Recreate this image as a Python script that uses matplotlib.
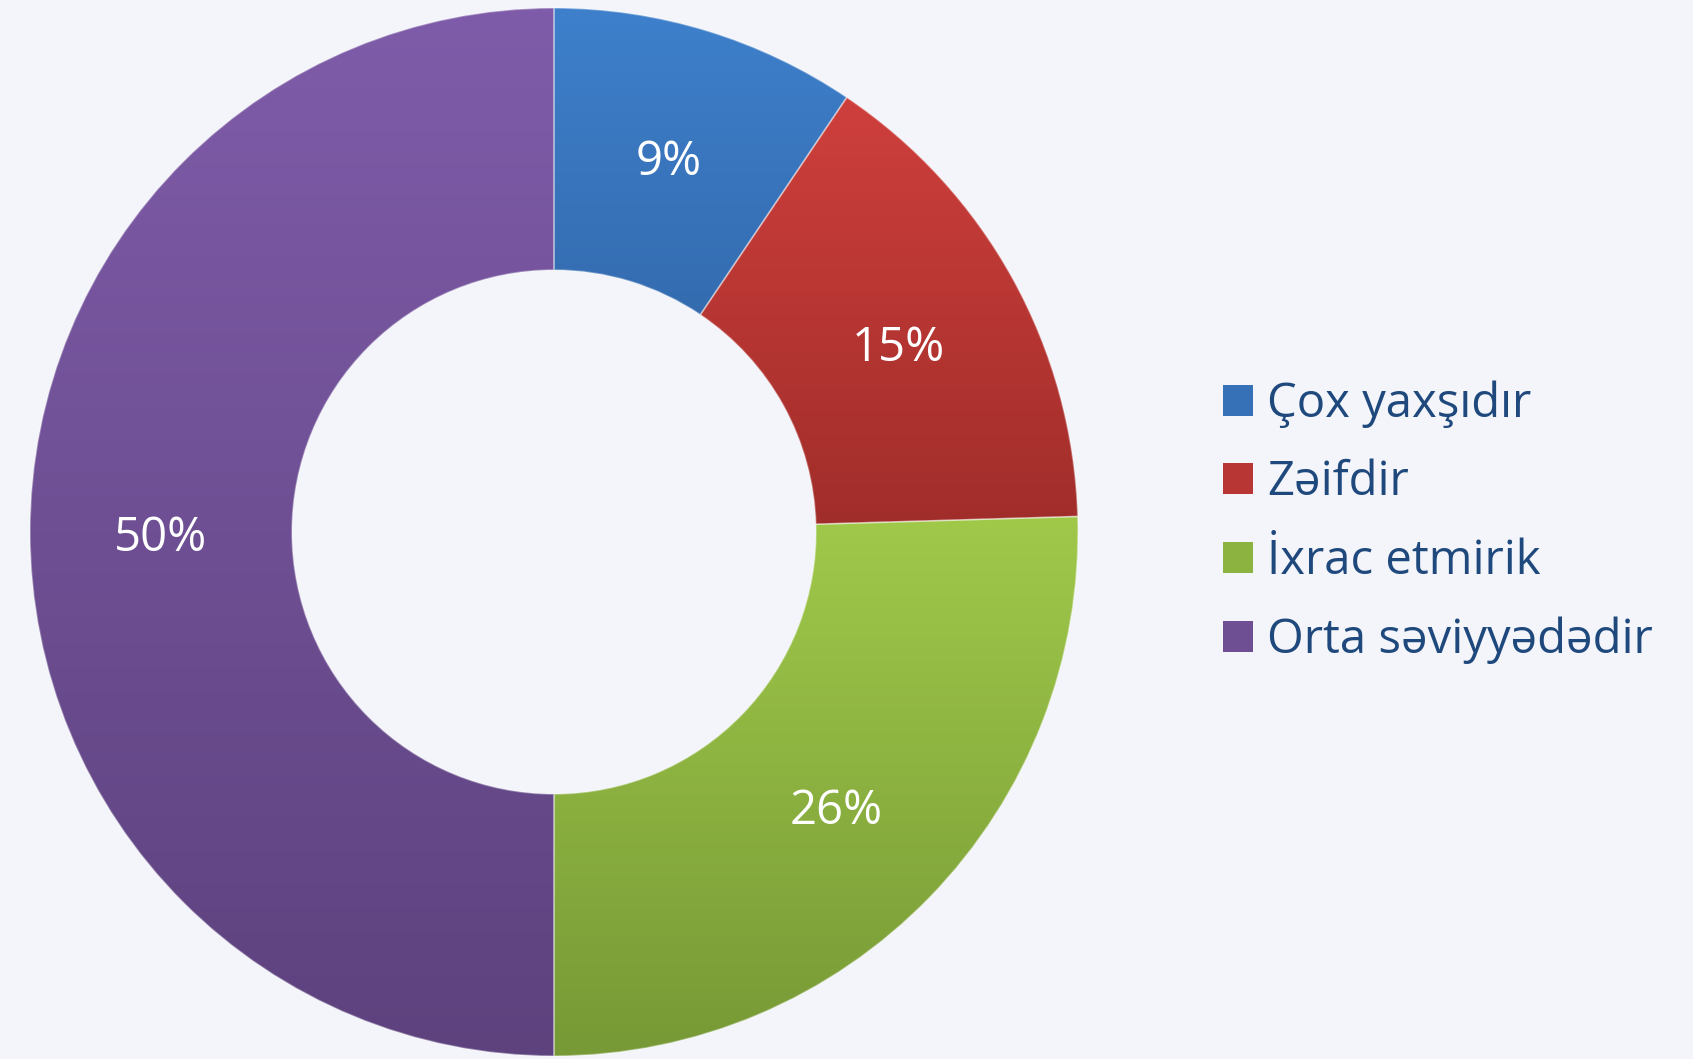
import numpy as np
import matplotlib.pyplot as plt
from matplotlib.patches import Patch
from matplotlib.colors import LinearSegmentedColormap

plt.rcParams['font.family'] = ['Open Sans', 'DejaVu Sans']

categories = ["Çox yaxşıdır", "Zəifdir", "İxrac etmirik", "Orta səviyyədədir"]
values = [10, 16, 27, 53]
pct_labels = ["9%", "15%", "26%", "50%"]
top_colors = ["#3E80CC", "#CE3F3C", "#A0C94A", "#7F5CA9"]
bottom_colors = ["#2D5D9B", "#A02D2A", "#779936", "#5D427E"]
mid_colors = ["#3670B6", "#B83633", "#8CB240", "#6E4F94"]

W, H = 1693, 1059
bg = "#F3F5FA"
fig = plt.figure(figsize=(W / 100, H / 100), dpi=100, facecolor=bg)
ax = fig.add_axes([0, 0, 1, 1])
ax.set_facecolor(bg)

cx, cy, R = 554, H - 532, 524
label_iter = iter(pct_labels)
wedges, texts, autotexts = ax.pie(
    values, center=(cx, cy), radius=R, startangle=90, counterclock=False,
    wedgeprops=dict(width=R * 0.5, linewidth=1.2, edgecolor=(1, 1, 1, 0.35)),
    autopct=lambda p: next(label_iter), pctdistance=0.75,
    textprops=dict(color='white', fontsize=34), frame=True)
ax.set_xlim(0, W)
ax.set_ylim(0, H)
ax.set_aspect('equal')
ax.axis('off')

# vertical gradient inside each slice
for w, c0, c1 in zip(wedges, top_colors, bottom_colors):
    verts = w.get_patch_transform().transform(w.get_path().vertices)
    x0, y0 = verts.min(axis=0)
    x1, y1 = verts.max(axis=0)
    cmap = LinearSegmentedColormap.from_list('g', [c1, c0])
    grad = np.linspace(0, 1, 256).reshape(-1, 1)
    im = ax.imshow(grad, cmap=cmap, extent=[x0, x1, y0, y1], origin='lower',
                   aspect='auto', zorder=w.get_zorder() - 0.1)
    im.set_clip_path(w)
    w.set_facecolor('none')

for t in autotexts:
    x, y = t.get_position()
    t.set_position((x, y - 6))
    t.set_zorder(5)

handles = [Patch(facecolor=c, edgecolor='none') for c in mid_colors]
fig.legend(handles, categories, loc='center left',
           bbox_to_anchor=(1223 / W, 1 - 522 / H), frameon=False,
           fontsize=34, labelcolor='#1F497D', handlelength=0.64, handleheight=0.64,
           handletextpad=0.3, labelspacing=0.66, borderpad=0, borderaxespad=0)

fig.savefig('out.png', dpi=100, facecolor=bg)
